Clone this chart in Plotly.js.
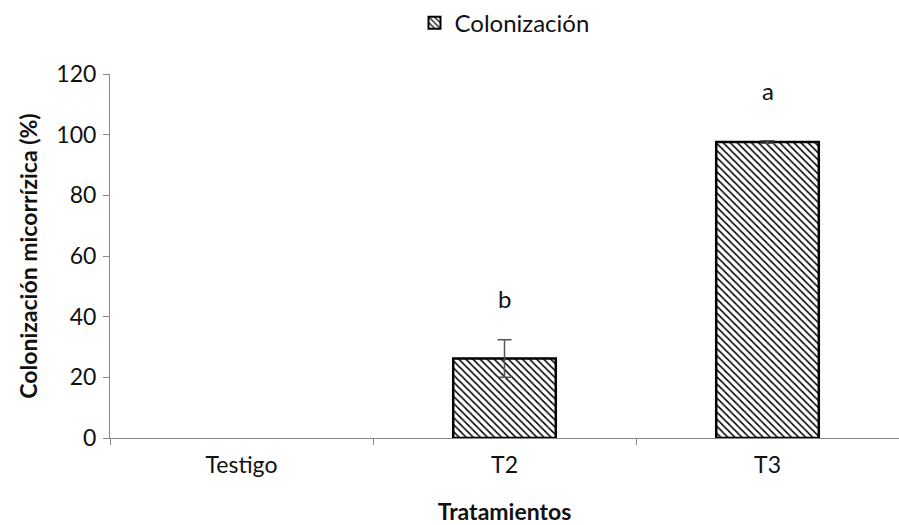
<!DOCTYPE html>
<html><head><meta charset="utf-8">
<script src="https://cdn.plot.ly/plotly-3.0.1.min.js"></script>
<style>body{margin:0;background:#fff}#c{width:899px;height:525px}</style>
</head><body><div id="c"></div>
<script>
const categories = ["Testigo", "T2", "T3"];
const values = [0, 26.2, 97.6];
const errors = [undefined, 6.2, 0.4];
const letters = ["", "b", "a"];
const letterY = [null, 46, 114.5];
const seriesName = "Colonización";

const pattern = {shape: "\\", fgcolor: "black", bgcolor: "white", size: 5, solidity: 0.3};
const trace = {
  type: "bar", x: categories, y: values, name: seriesName, showlegend: false,
  width: 0.39,
  marker: {color: "white", line: {color: "black", width: values.map(v => v > 0 ? 2.5 : 0)}, pattern: pattern},
  error_y: {type: "data", array: errors, visible: true, color: "#555", thickness: 1.5, width: 7}
};
const legendTrace = {
  type: "bar", x: [null], y: [null], name: seriesName, showlegend: true, hoverinfo: "skip",
  marker: {color: "white", line: {color: "black", width: 2}, pattern: pattern}
};
const ann = [];
categories.forEach((c, i) => { if (letters[i]) ann.push({x: c, y: letterY[i], text: letters[i], showarrow: false, font: {size: 24, color: "#111"}}); });
const F = "Lato, 'Open Sans', sans-serif";
Plotly.newPlot("c", [trace, legendTrace], {
  width: 899, height: 525,
  margin: {l: 110, r: 0, t: 74, b: 87},
  barmode: "overlay",
  font: {family: F, color: "#111"},
  paper_bgcolor: "white", plot_bgcolor: "white",
  showlegend: true,
  legend: {orientation: "h", x: 0.5, xanchor: "center", y: 1.14, yanchor: "middle", font: {size: 24}, itemwidth: 30},
  xaxis: {showline: true, linecolor: "#888", linewidth: 1, ticks: "outside", tickson: "boundaries", ticklen: 6, tickcolor: "#888",
    tickfont: {size: 23}, ticklabelstandoff: 6, title: {text: "<b>Tratamientos</b>", font: {size: 23}, standoff: 28}},
  yaxis: {range: [0, 120], dtick: 20, showgrid: false, zeroline: false, showline: true, linecolor: "#888", linewidth: 1,
    ticks: "outside", ticklen: 6, tickcolor: "#888", tickfont: {size: 23}, ticklabelstandoff: 2,
    title: {text: "<b>Colonización micorrízica (%)</b>", font: {size: 23}, standoff: 12}},
  annotations: ann
}, {displayModeBar: false});
</script></body></html>
